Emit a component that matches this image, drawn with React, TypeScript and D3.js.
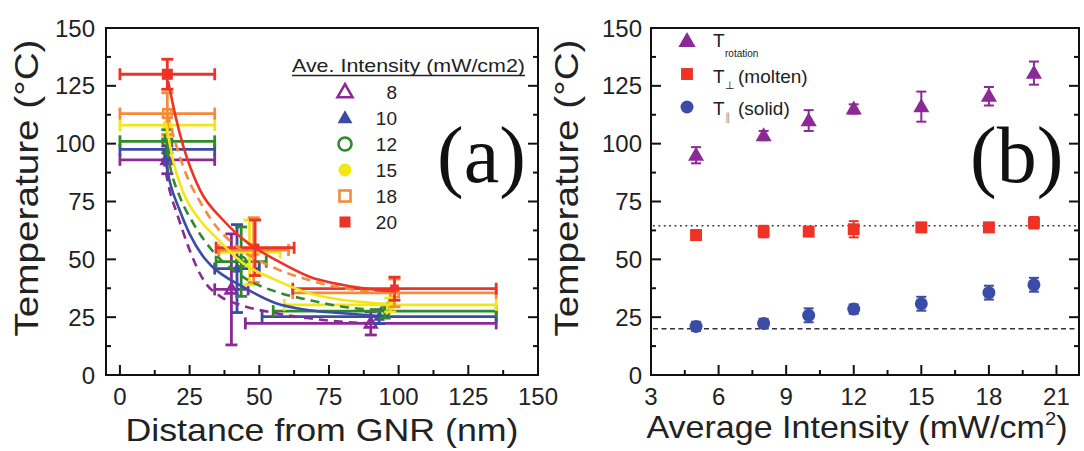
import React from 'react';
import * as d3 from 'd3';

const W = 1084;
const H = 451;
const SANS = "'Liberation Sans', Arial, Helvetica, sans-serif";
const SERIF = "'Liberation Serif', 'Times New Roman', serif";

// ---------------- Panel (a) data ----------------
const intensityLabels = ['8', '10', '12', '15', '18', '20'];

const dist8 = [17, 40, 90];
const temp8 = [93, 37, 22.3];
const distErr8 = [17, 6, 45];
const tempErr8 = [6, 24, 5];

const dist10 = [17, 42, 93];
const temp10 = [97.5, 46, 25.2];
const distErr10 = [17, 8, 42];
const tempErr10 = [5, 19, 3];

const dist12 = [17, 43.5, 95];
const temp12 = [101, 49, 27.6];
const distErr12 = [17, 9, 40];
const tempErr12 = [5, 15, 3];

const dist15 = [17, 46.5, 97];
const temp15 = [108, 53, 30.3];
const distErr15 = [17, 11, 38];
const tempErr15 = [5, 14, 3];

const dist18 = [17, 48, 98.5];
const temp18 = [113, 54, 35.5];
const distErr18 = [17, 12.5, 36.5];
const tempErr18 = [9, 14, 6];

const dist20 = [17, 48.5, 98.5];
const temp20 = [130, 55, 37.3];
const distErr20 = [17, 14, 36.5];
const tempErr20 = [6.5, 12, 5];

// fitted decay curves
const fitX8 = [15.5, 18, 20.4, 25, 30, 36, 44, 56, 68, 80, 90];
const fitY8 = [94, 79, 70, 54, 41, 34, 30, 26.7, 24.5, 23, 22.3];
const fitX10 = [15.5, 18, 21.5, 25, 30, 33, 44, 56, 68, 80, 93];
const fitY10 = [98, 83, 71, 61, 51, 47, 38.2, 31, 28, 26.7, 25.5];
const fitX12 = [16, 18, 21.5, 26.3, 33, 44, 56, 68, 80, 95];
const fitY12 = [104, 90, 77, 65.6, 54, 42.5, 36, 32.4, 29.5, 28];
const fitX15 = [16.5, 19, 22.7, 28.7, 34, 44, 56, 68, 80, 92, 97];
const fitY15 = [109, 93, 79, 67, 60, 48.5, 41, 35.3, 32.4, 31, 30.3];
const fitX18 = [17, 20, 24, 28.7, 34.7, 42, 56, 68, 80, 98.5];
const fitY18 = [113, 100, 86, 75, 64, 55.5, 46, 41, 37.6, 35.3];
const fitX20 = [17.3, 20, 22.7, 28.7, 37, 46, 56, 68, 80, 93, 98.5];
const fitY20 = [127, 111.5, 99, 80, 67, 57, 49.7, 42.5, 38.9, 36.7, 36.2];

const yTicks = [0, 25, 50, 75, 100, 125, 150];
const distTicks = [0, 25, 50, 75, 100, 125, 150];
const intensityTicks = [3, 6, 9, 12, 15, 18, 21];

// ---------------- Panel (b) data ----------------
const avgIntensity = [5, 8, 10, 12, 15, 18, 20];
const tRotation = [95, 103.5, 110, 115, 116, 120.5, 130.5];
const tRotationErr = [3.5, 2, 4.5, 2, 6.5, 4, 5];
const tMolten = [60.5, 62, 62, 63, 63.8, 63.8, 65.8];
const tMoltenErr = [2, 2.5, 2, 3.5, 2, 2, 2.5];
const tSolid = [21, 22.3, 25.8, 28.5, 30.8, 35.6, 39];
const tSolidErr = [2, 2, 3, 2, 3, 3, 3];
const refMolten = 64.5;
const refSolid = 20;

// ---------------- styles ----------------
const PURPLE = '#8B2A96';
const BLUE = '#3A4CA6';
const GREEN = '#2F8A2C';
const YELLOW = '#F3E616';
const ORANGE = '#F58A3C';
const RED = '#EE3226';

type Shape = 'tri' | 'circ' | 'sq';

function Marker({ cx, cy, shape, color, filled, s = 13 }: { cx: number; cy: number; shape: Shape; color: string; filled: boolean; s?: number }) {
  const fill = filled ? color : '#fff';
  const sw = filled ? 0 : 2.6;
  if (shape === 'tri') {
    const w = s * 1.15, h = s;
    const pts = `${cx},${cy - h * 0.6} ${cx - w / 2},${cy + h * 0.4} ${cx + w / 2},${cy + h * 0.4}`;
    return <polygon points={pts} fill={fill} stroke={color} strokeWidth={sw} strokeLinejoin="miter" />;
  }
  if (shape === 'circ') {
    return <circle cx={cx} cy={cy} r={s / 2} fill={fill} stroke={color} strokeWidth={sw} />;
  }
  const q = s * 0.85;
  return <rect x={cx - q / 2} y={cy - q / 2} width={q} height={q} fill={fill} stroke={color} strokeWidth={sw} />;
}

function Frame({ x0, x1, y0, y1, xMajor, xMinor, xScale, yMajor, yMinor, yScale }: any) {
  const L = 10, l = 5;
  const els: any[] = [];
  yMajor.forEach((v: number, i: number) => {
    const y = yScale(v);
    els.push(<line key={'yl' + i} x1={x0} x2={x0 + L} y1={y} y2={y} />);
    els.push(<line key={'yr' + i} x1={x1} x2={x1 - L} y1={y} y2={y} />);
  });
  yMinor.forEach((v: number, i: number) => {
    const y = yScale(v);
    els.push(<line key={'yml' + i} x1={x0} x2={x0 + l} y1={y} y2={y} />);
    els.push(<line key={'ymr' + i} x1={x1} x2={x1 - l} y1={y} y2={y} />);
  });
  xMajor.forEach((v: number, i: number) => {
    const x = xScale(v);
    els.push(<line key={'xb' + i} x1={x} x2={x} y1={y0} y2={y0 - L} />);
  });
  xMinor.forEach((v: number, i: number) => {
    const x = xScale(v);
    els.push(<line key={'xm' + i} x1={x} x2={x} y1={y0} y2={y0 - l} />);
  });
  return (
    <g stroke="#111" strokeWidth={2}>
      {els}
      <rect x={x0} y={y1} width={x1 - x0} height={y0 - y1} fill="none" />
    </g>
  );
}

export default function App() {
  const xA = d3.scaleLinear().domain([-5, 150]).range([106, 538]);
  const yT = d3.scaleLinear().domain([0, 150]).range([375, 28]);
  const xB = d3.scaleLinear().domain([3, 22]).range([651, 1079]);

  const seriesA = [
    { label: intensityLabels[0], x: dist8, y: temp8, xe: distErr8, ye: tempErr8, fx: fitX8, fy: fitY8, color: PURPLE, shape: 'tri' as Shape, filled: false, dashed: true },
    { label: intensityLabels[1], x: dist10, y: temp10, xe: distErr10, ye: tempErr10, fx: fitX10, fy: fitY10, color: BLUE, shape: 'tri' as Shape, filled: true, dashed: false },
    { label: intensityLabels[2], x: dist12, y: temp12, xe: distErr12, ye: tempErr12, fx: fitX12, fy: fitY12, color: GREEN, shape: 'circ' as Shape, filled: false, dashed: true },
    { label: intensityLabels[3], x: dist15, y: temp15, xe: distErr15, ye: tempErr15, fx: fitX15, fy: fitY15, color: YELLOW, shape: 'circ' as Shape, filled: true, dashed: false },
    { label: intensityLabels[4], x: dist18, y: temp18, xe: distErr18, ye: tempErr18, fx: fitX18, fy: fitY18, color: ORANGE, shape: 'sq' as Shape, filled: false, dashed: true },
    { label: intensityLabels[5], x: dist20, y: temp20, xe: distErr20, ye: tempErr20, fx: fitX20, fy: fitY20, color: RED, shape: 'sq' as Shape, filled: true, dashed: false },
  ];

  const lineA = d3.line<[number, number]>().x(d => xA(d[0])).y(d => yT(d[1])).curve(d3.curveMonotoneX);

  const seriesB = [
    { y: tRotation, e: tRotationErr, color: PURPLE, shape: 'tri' as Shape, s: 14 },
    { y: tMolten, e: tMoltenErr, color: RED, shape: 'sq' as Shape, s: 14 },
    { y: tSolid, e: tSolidErr, color: BLUE, shape: 'circ' as Shape, s: 13 },
  ];

  const capV = 6; // half width of caps

  return (
    <svg width={W} height={H} viewBox={`0 0 ${W} ${H}`} style={{ position: 'absolute', left: 0, top: 0, background: '#fff' }} fontFamily={SANS}>
      <rect x={0} y={0} width={W} height={H} fill="#fff" />

      {/* ================= Panel (a) ================= */}
      {/* markers (mostly hidden under bars and curves, as in the original) */}
      {seriesA.map((s, si) => (
        <g key={'mk' + si}>
          {s.x.map((xv, i) => (
            <Marker key={i} cx={xA(xv)} cy={yT(s.y[i])} shape={s.shape} color={s.color} filled={s.filled} s={10} />
          ))}
        </g>
      ))}
      {/* error bars */}
      {seriesA.map((s, si) => (
        <g key={'eb' + si} stroke={s.color} strokeWidth={2.8} fill="none">
          {s.x.map((xv, i) => {
            const cx = xA(xv), cy = yT(s.y[i]);
            const xl = xA(xv - s.xe[i]), xr = xA(xv + s.xe[i]);
            const yt = yT(s.y[i] + s.ye[i]), yb = yT(s.y[i] - s.ye[i]);
            return (
              <g key={i}>
                <line x1={xl} x2={xr} y1={cy} y2={cy} />
                <line x1={xl} x2={xl} y1={cy - capV} y2={cy + capV} />
                <line x1={xr} x2={xr} y1={cy - capV} y2={cy + capV} />
                <line x1={cx} x2={cx} y1={yt} y2={yb} />
                <line x1={cx - capV} x2={cx + capV} y1={yt} y2={yt} />
                <line x1={cx - capV} x2={cx + capV} y1={yb} y2={yb} />
              </g>
            );
          })}
        </g>
      ))}
      {/* fit curves */}
      {seriesA.map((s, si) => (
        <path key={'fit' + si} d={lineA(s.fx.map((v, i) => [v, s.fy[i]] as [number, number])) || ''} fill="none" stroke={s.color} strokeWidth={2.6} strokeDasharray={s.dashed ? '9,6' : undefined} />
      ))}
      {/* first-point red square sits on top in the original */}
      <Marker cx={xA(dist20[0])} cy={yT(temp20[0])} shape="sq" color={RED} filled={true} s={13} />

      <Frame x0={106} x1={538} y0={375} y1={28} xScale={xA} yScale={yT}
        xMajor={distTicks} xMinor={distTicks.slice(0, -1).map(v => v + 12.5)}
        yMajor={yTicks} yMinor={yTicks.slice(0, -1).map(v => v + 12.5)} />

      {/* tick labels */}
      {yTicks.map(v => (
        <text key={'ya' + v} x={95} y={yT(v) + 8.5} fontSize={24} textAnchor="end" fill="#222">{v}</text>
      ))}
      {distTicks.map(v => (
        <text key={'xa' + v} x={xA(v)} y={405} fontSize={24} textAnchor="middle" fill="#222">{v}</text>
      ))}
      <text x={322} y={441} fontSize={32} textAnchor="middle" textLength={393} lengthAdjust="spacingAndGlyphs" fill="#222">Distance from GNR (nm)</text>
      <text transform="translate(38,188) rotate(-90)" fontSize={34} textAnchor="middle" textLength={297} lengthAdjust="spacingAndGlyphs" fill="#222">Temperature (°C)</text>

      {/* legend (a) */}
      <text x={292} y={72} fontSize={19} textLength={233} lengthAdjust="spacingAndGlyphs" fill="#222">Ave. Intensity (mW/cm2)</text>
      <line x1={292} x2={525} y1={75.5} y2={75.5} stroke="#222" strokeWidth={1.4} />
      {seriesA.map((s, i) => (
        <g key={'lg' + i}>
          <Marker cx={345} cy={92 + i * 26} shape={s.shape} color={s.color} filled={s.filled} s={13} />
          <text x={397} y={92 + i * 26 + 7} fontSize={19} textAnchor="end" fill="#222">{s.label}</text>
        </g>
      ))}
      <text x={437} y={182} fontSize={80} fontFamily={SERIF} fill="#111">(a)</text>

      {/* ================= Panel (b) ================= */}
      <line x1={653} x2={1077} y1={yT(refMolten)} y2={yT(refMolten)} stroke="#333" strokeWidth={1.6} strokeDasharray="1.8,3.6" />
      <line x1={653} x2={1077} y1={yT(refSolid)} y2={yT(refSolid)} stroke="#333" strokeWidth={1.6} strokeDasharray="5,3.5" />

      {seriesB.map((s, si) => (
        <g key={'b' + si}>
          {avgIntensity.map((xv, i) => {
            const cx = xB(xv);
            const yt = yT(s.y[i] + s.e[i]), yb = yT(s.y[i] - s.e[i]);
            return (
              <g key={i}>
                <g stroke={s.color} strokeWidth={2}>
                  <line x1={cx} x2={cx} y1={yt} y2={yb} />
                  <line x1={cx - 5} x2={cx + 5} y1={yt} y2={yt} />
                  <line x1={cx - 5} x2={cx + 5} y1={yb} y2={yb} />
                </g>
                <Marker cx={cx} cy={yT(s.y[i])} shape={s.shape} color={s.color} filled={true} s={s.s} />
              </g>
            );
          })}
        </g>
      ))}

      <Frame x0={651} x1={1079} y0={375} y1={28} xScale={xB} yScale={yT}
        xMajor={intensityTicks} xMinor={intensityTicks.map(v => v + 1.5).filter(v => v < 22)}
        yMajor={yTicks} yMinor={yTicks.slice(0, -1).map(v => v + 12.5)} />

      {yTicks.map(v => (
        <text key={'yb' + v} x={642} y={yT(v) + 8.5} fontSize={24} textAnchor="end" fill="#222">{v}</text>
      ))}
      {intensityTicks.map(v => (
        <text key={'xb' + v} x={xB(v)} y={405} fontSize={24} textAnchor="middle" fill="#222">{v}</text>
      ))}
      <text x={857} y={438} fontSize={32} textAnchor="middle" textLength={421} lengthAdjust="spacingAndGlyphs" fill="#222">
        Average Intensity (mW/cm<tspan fontSize={19} dy={-13}>2</tspan><tspan dy={13}>)</tspan>
      </text>
      <text transform="translate(578,188) rotate(-90)" fontSize={34} textAnchor="middle" textLength={297} lengthAdjust="spacingAndGlyphs" fill="#222">Temperature (°C)</text>

      {/* legend (b) */}
      <Marker cx={687} cy={41} shape="tri" color={PURPLE} filled={true} s={15} />
      <text x={713} y={47} fontSize={19} fill="#222">T</text>
      <text x={725} y={57} fontSize={10} fill="#222">rotation</text>
      <Marker cx={687} cy={74} shape="sq" color={RED} filled={true} s={14} />
      <text x={713} y={83} fontSize={19} fill="#222">T</text>
      <text x={725} y={89} fontSize={11} fill="#222">⊥</text>
      <text x={738} y={83} fontSize={19} fill="#222">(molten)</text>
      <Marker cx={687} cy={107} shape="circ" color={BLUE} filled={true} s={13} />
      <text x={713} y={115} fontSize={19} fill="#222">T</text>
      <text x={725} y={121} fontSize={11} fill="#999">∥</text>
      <text x={738} y={115} fontSize={19} fill="#222">(solid)</text>

      <text x={970} y={182} fontSize={80} fontFamily={SERIF} fill="#111">(b)</text>
    </svg>
  );
}
